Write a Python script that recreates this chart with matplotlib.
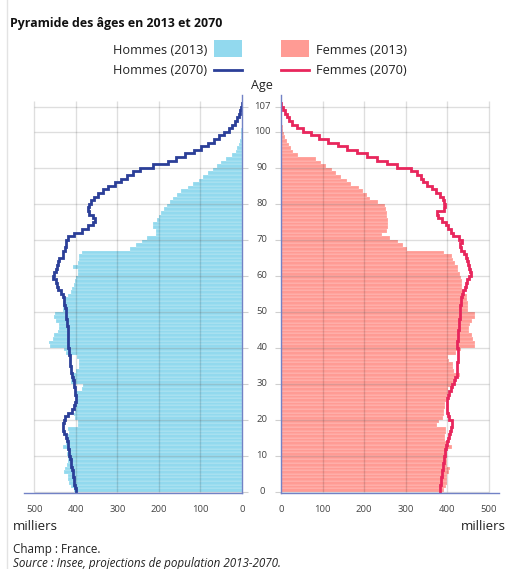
import matplotlib
matplotlib.use("Agg")
import matplotlib.pyplot as plt
import matplotlib.transforms as mtransforms
from matplotlib.patches import Rectangle
from matplotlib.lines import Line2D
import numpy as np

plt.rcParams["font.family"] = ["Open Sans", "DejaVu Sans"]

# Population by single year of age (thousands), France
ages = np.arange(108)

hommes_2013 = [
    405, 413, 416, 418, 420, 428, 426, 421, 420, 420,
    421, 420, 432, 425, 418, 418, 416, 418, 396, 394,
    402, 404, 401, 399, 398, 398, 399, 400, 386, 384,
    413, 413, 413, 400, 393, 392, 393, 398, 424, 428,
    463, 465, 455, 452, 442, 440, 441, 448, 452, 450,
    432, 430, 430, 428, 418, 412, 410, 404, 402, 400,
    394, 396, 406, 395, 393, 392, 386, 270, 256, 242,
    228, 208, 206, 214, 214, 205, 200, 194, 187, 181,
    174, 166, 156, 146, 130, 118, 103, 93, 82, 70,
    60, 50, 38, 24, 15, 11, 7, 4.5, 3, 2,
    1.3, 0.9, 0.6, 0.4, 0.3, 0.2, 0.1, 0.1,
]

femmes_2013 = [
    392, 396, 398, 399, 400, 405, 406, 400, 398, 398,
    398, 399, 410, 398, 395, 395, 396, 397, 376, 380,
    390, 391, 393, 394, 395, 396, 400, 401, 402, 412,
    414, 416, 430, 416, 414, 413, 405, 402, 420, 432,
    466, 466, 462, 458, 452, 452, 454, 458, 466, 466,
    450, 450, 450, 446, 446, 438, 436, 434, 434, 433,
    430, 426, 425, 418, 414, 412, 392, 302, 294, 282,
    262, 242, 256, 258, 258, 258, 254, 254, 252, 250,
    234, 214, 206, 198, 188, 168, 158, 145, 132, 122,
    108, 95, 85, 42, 30, 25, 19, 14, 10, 8,
    5, 4, 3, 2, 1.5, 1, 0.5, 0.3,
]

hommes_2070 = [
    400, 402, 404, 405, 407, 408, 410, 412, 413, 415,
    416, 417, 418, 420, 422, 425, 428, 430, 430, 429,
    426, 418, 410, 404, 401, 400, 400, 401, 402, 404,
    405, 406, 409, 411, 413, 414, 415, 415, 416, 417,
    418, 418, 418, 419, 419, 420, 421, 422, 423, 424,
    425, 426, 428, 429, 431, 436, 442, 445, 448, 454,
    452, 448, 446, 442, 440, 432, 430, 426, 424, 424,
    418, 405, 385, 370, 360, 354, 358, 368, 370, 368,
    364, 356, 346, 334, 322, 306, 292, 278, 262, 245,
    215, 178, 158, 138, 115, 98, 82, 68, 56, 44,
    32, 24, 18, 12, 8, 4, 2, 1,
]

femmes_2070 = [
    382, 383, 384, 385, 386, 388, 389, 390, 391, 393,
    394, 395, 396, 398, 401, 404, 407, 409, 411, 410,
    405, 401, 398, 398, 399, 400, 402, 405, 408, 411,
    415, 419, 422, 423, 424, 424, 425, 426, 426, 425,
    424, 424, 425, 425, 426, 427, 428, 429, 430, 431,
    431, 431, 432, 433, 435, 438, 442, 444, 448, 452,
    457, 454, 452, 450, 448, 444, 440, 433, 430, 434,
    428, 414, 408, 402, 396, 386, 378, 376, 392, 394,
    393, 390, 382, 372, 362, 352, 342, 336, 326, 312,
    280, 254, 230, 206, 182, 158, 136, 114, 92, 72,
    54, 38, 26, 19, 14, 9, 4, 1,
]

age_ticks = [0, 10, 20, 30, 40, 50, 60, 70, 80, 90, 100, 107]
value_ticks = [0, 100, 200, 300, 400, 500]

C_H13 = "#92d9ee"
C_F13 = "#ff9b94"
C_H70 = "#2b3f98"
C_F70 = "#e8265c"
C_AXIS = "#7282c6"
C_TEXT = "#222222"
C_TICK = "#444444"

W, H = 508, 569
fig = plt.figure(figsize=(W / 100, H / 100), dpi=100)


def fx(px):
    return px / W


def fy(py):
    return 1 - py / H


y_bot, y_top = 492.8, 94.8
ax_l = fig.add_axes([fx(24), fy(y_bot), (242 - 24) / W, (y_bot - y_top) / H])
ax_r = fig.add_axes([fx(281), fy(y_bot), (499.4 - 281) / W, (y_bot - y_top) / H])

XMAX = 525
ax_l.set_xlim(XMAX, 0)
ax_r.set_xlim(0, XMAX)


def step_path(values):
    xs = np.repeat(np.asarray(values, dtype=float), 2)
    ys = np.column_stack([ages, ages + 1]).ravel()
    return xs, ys


for ax, bars, line, bcol, lcol, axis_side in [
    (ax_l, hommes_2013, hommes_2070, C_H13, C_H70, "right"),
    (ax_r, femmes_2013, femmes_2070, C_F13, C_F70, "left"),
]:
    ax.set_ylim(-0.3, 110.3)
    ax.barh(ages + 0.5, bars, height=1.0, color=bcol,
            edgecolor=(1, 1, 1, 0.45), linewidth=0.35, zorder=2)
    ax.vlines(value_ticks[1:], 0, 108.7, colors="black", alpha=0.13,
              linewidth=1.0, zorder=3)
    ax.hlines(age_ticks, 0, 500, colors="black", alpha=0.13,
              linewidth=1.0, zorder=3)
    xs, ys = step_path(line)
    ax.plot(xs, ys, color=lcol, linewidth=2.0, solid_joinstyle="miter", zorder=5)

    for side in ["top", "left", "right", "bottom"]:
        ax.spines[side].set_visible(side in ("bottom", axis_side))
        ax.spines[side].set_color(C_AXIS)
        ax.spines[side].set_linewidth(1.0)
        ax.spines[side].set_zorder(6)

    ax.set_xticks(value_ticks)
    ax.set_xticklabels([str(v) for v in value_ticks])
    ax.tick_params(axis="x", length=0, pad=9, labelsize=6.8, labelcolor=C_TICK)

    ax.set_yticks(age_ticks)
    ax.tick_params(axis="y", length=4, width=0.8, color="#cfcfcf",
                   labelleft=False, labelright=False,
                   left=(axis_side == "left"), right=(axis_side == "right"))
    ax.set_facecolor("none")

# Age labels between the two halves
trans = mtransforms.blended_transform_factory(fig.transFigure, ax_l.transData)
for t in age_ticks:
    fig.text(fx(262), t, str(t), transform=trans, ha="center", va="center",
             fontsize=6.8, color=C_TICK)
fig.text(fx(262), fy(86), "Age", ha="center", va="center", fontsize=9, color=C_TEXT)

# Title
fig.text(fx(10), fy(23), "Pyramide des âges en 2013 et 2070", ha="left",
         va="center", fontsize=8.9, fontweight="bold", color="#111111")

# Legend
fig.patches.append(Rectangle((fx(214), fy(56.7)), 28 / W, 16.7 / H,
                             transform=fig.transFigure, color=C_H13, linewidth=0))
fig.patches.append(Rectangle((fx(281), fy(56.7)), 28 / W, 16.7 / H,
                             transform=fig.transFigure, color=C_F13, linewidth=0))
fig.lines.append(Line2D([fx(214), fx(242)], [fy(70), fy(70)],
                        transform=fig.transFigure, color=C_H70, linewidth=2.0))
fig.lines.append(Line2D([fx(281), fx(309)], [fy(70), fy(70)],
                        transform=fig.transFigure, color=C_F70, linewidth=2.0))
fig.text(fx(207), fy(50), "Hommes (2013)", ha="right", va="center",
         fontsize=9.2, color=C_TEXT)
fig.text(fx(207), fy(70), "Hommes (2070)", ha="right", va="center",
         fontsize=9.2, color=C_TEXT)
fig.text(fx(316), fy(50), "Femmes (2013)", ha="left", va="center",
         fontsize=9.2, color=C_TEXT)
fig.text(fx(316), fy(70), "Femmes (2070)", ha="left", va="center",
         fontsize=9.2, color=C_TEXT)

# Units and notes
fig.text(fx(13), fy(527), "milliers", ha="left", va="center",
         fontsize=9.5, color=C_TEXT)
fig.text(fx(506), fy(527), "milliers", ha="right", va="center",
         fontsize=9.5, color=C_TEXT)
fig.text(fx(13), fy(550), "Champ : France.", ha="left", va="center",
         fontsize=8.4, color=C_TEXT)
fig.text(fx(13), fy(563), "Source : Insee, projections de population 2013-2070.",
         ha="left", va="center", fontsize=8.4, style="italic", color=C_TEXT)

# Thin frame line at the left edge
fig.lines.append(Line2D([fx(7.3), fx(7.3)], [0, 1], transform=fig.transFigure,
                        color="#e3e3e3", linewidth=1.0))

fig.savefig("out.png", dpi=100)
